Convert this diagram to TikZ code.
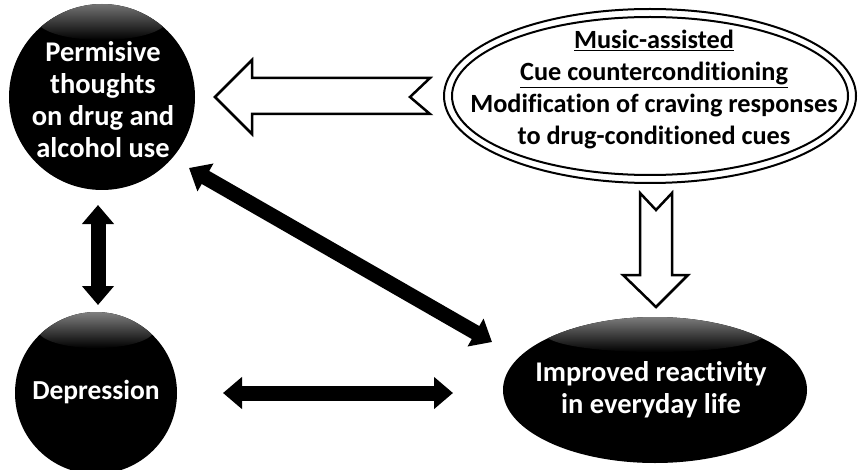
\documentclass[tikz,border=0pt]{standalone}
\usepackage{fontspec}
\setmainfont{Carlito}[Ligatures=NoCommon]
\usetikzlibrary{arrows.meta,shapes.geometric}
\begin{document}
\begin{tikzpicture}[x=1pt,y=-1pt,
  blob/.style={fill=black,inner sep=0pt},
  wtxt/.style={text=white,font=\bfseries\fontsize{28.5}{32}\selectfont,align=center,inner sep=0pt},
  btxt/.style={text=black,font=\bfseries\fontsize{26.3}{32}\selectfont,align=center,inner sep=0pt},
  dbl/.style={line width=15pt,{Triangle[width=31pt,length=19pt]}-{Triangle[width=31pt,length=19pt]}},
  hollow/.style={draw=black,line width=2.5pt,fill=white,line join=miter},
  ring/.style={draw=black,line width=2pt,ellipse,inner sep=0pt},
  gloss/.style={top color=black!50,bottom color=black},
]
\useasboundingbox (0,0) rectangle (858,470);
\clip (0,0) rectangle (858,470);

% black shapes
\node[blob,circle,minimum size=186pt] (perm) at (102,97) {};
\node[blob,circle,minimum size=162pt] (dep) at (96,393) {};
\node[blob,ellipse,minimum width=304pt,minimum height=146pt] (impr) at (655,390) {};

% gloss highlights
\begin{scope}
  \clip (102,97) circle (93);
  \shade[gloss] (102,20) ellipse (65 and 20);
\end{scope}
\begin{scope}
  \clip (96,393) circle (81);
  \shade[gloss] (96,330) ellipse (58 and 18);
\end{scope}
\begin{scope}
  \clip (655,390) ellipse (152 and 73);
  \shade[gloss] (655,334) ellipse (110 and 18);
\end{scope}

% texts in black shapes
\node[wtxt] (permtxt) at (103,100) {Permisive\\thoughts\\on drug and\\alcohol use};
\node[wtxt,font=\bfseries\fontsize{27.5}{32}\selectfont] (deptxt) at (96,392) {Depression};
\node[wtxt] (imprtxt) at (651,390) {Improved reactivity\\in everyday life};

% double ellipse
\node[ring,minimum width=412pt,minimum height=174pt] (music) at (650,96) {};
\node[ring,minimum width=396pt,minimum height=158pt] (musicin) at (650,96) {};
\node[btxt] (musictxt) at (654,90) {\underline{Music-assisted}\\\underline{Cue counterconditioning}\\Modification of craving responses\\to drug-conditioned cues};

% hollow block arrows
\draw[hollow] (215,97) -- (252,60) -- (252,78) -- (430,78) -- (410,97) -- (430,114) -- (252,114) -- (252,134) -- cycle;
\draw[hollow] (640,193) -- (656,210) -- (672,193) -- (672,275) -- (688,275) -- (656,307) -- (623,275) -- (640,275) -- cycle;

% black double arrows
\coordinate (v1) at (98,205);
\coordinate (v2) at (98,305);
\coordinate (h1) at (223,393);
\coordinate (h2) at (453,393);
\coordinate (d1) at (189,168);
\coordinate (d2) at (492,342);
\draw[dbl] (v1) -- (v2);
\draw[dbl] (h1) -- (h2);
\draw[dbl] (d1) -- (d2);
\end{tikzpicture}
\end{document}
